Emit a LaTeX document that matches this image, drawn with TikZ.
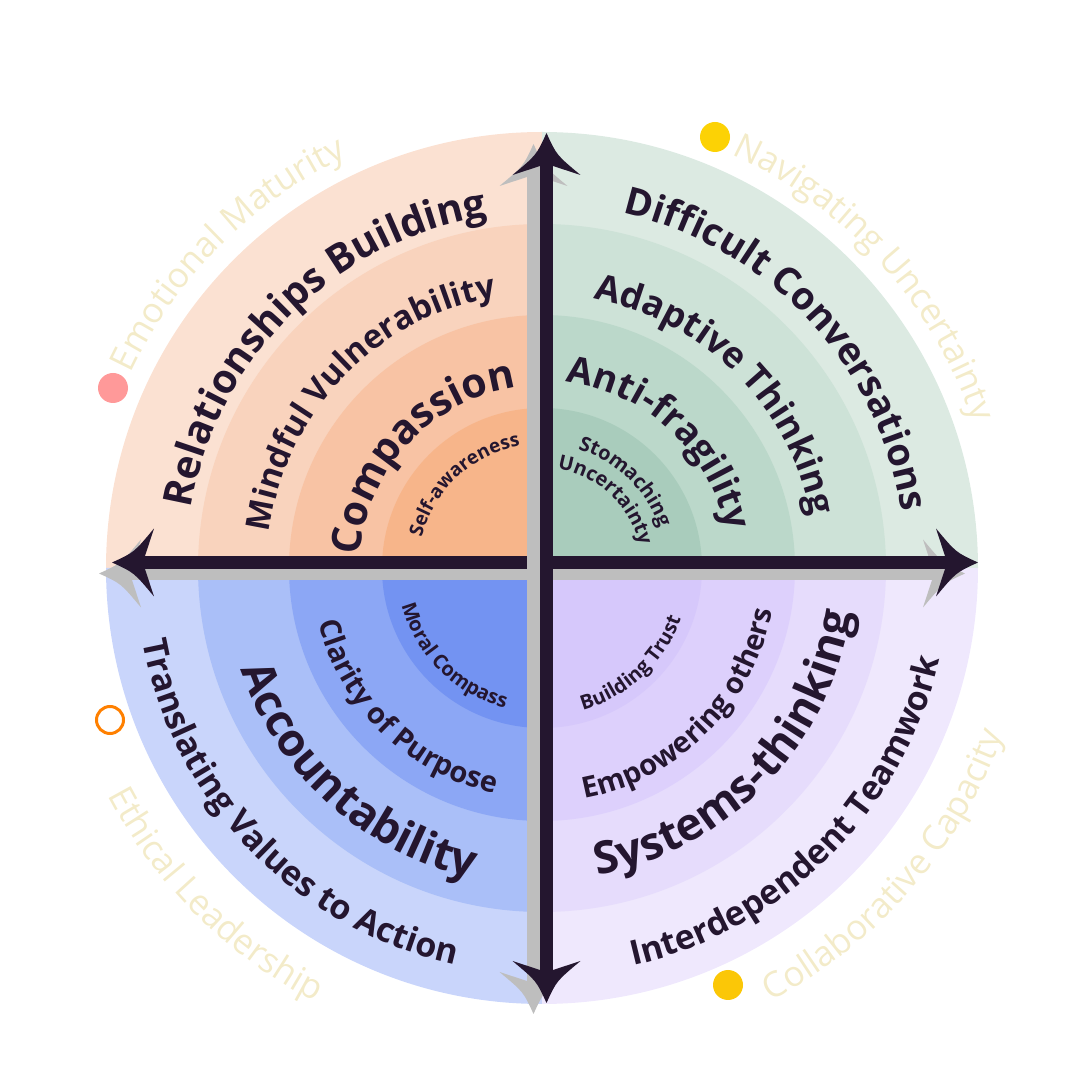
\documentclass[tikz,border=0pt]{standalone}
\usepackage{fontspec}
\setmainfont{Open Sans}
\usetikzlibrary{decorations.text}
\definecolor{dk}{HTML}{24162F}
\definecolor{sh}{HTML}{BEBEBE}
\definecolor{pale}{HTML}{F3EBC9}
\definecolor{o1}{HTML}{FBE1D2}\definecolor{o2}{HTML}{F9D3BD}\definecolor{o3}{HTML}{F8C3A4}\definecolor{o4}{HTML}{F7B58A}
\definecolor{g1}{HTML}{DCEAE2}\definecolor{g2}{HTML}{CDE2D7}\definecolor{g3}{HTML}{BBD8CA}\definecolor{g4}{HTML}{A9CCBC}
\definecolor{b1}{HTML}{C9D5FB}\definecolor{b2}{HTML}{AABFF8}\definecolor{b3}{HTML}{8CA7F5}\definecolor{b4}{HTML}{7393F2}
\definecolor{p1}{HTML}{EFE8FD}\definecolor{p2}{HTML}{E6DCFC}\definecolor{p3}{HTML}{DDD0FC}\definecolor{p4}{HTML}{D6C8FB}
\newcommand\cwtext[5]{\path[decorate,decoration={text along path,text align=center,text={|\color{#5}\fontsize{#3}{#3}\selectfont\bfseries|#4}}] (C) ++({#2+85}:#1pt) arc[start angle={#2+85},end angle={#2-85},radius=#1pt];}
\newcommand\ccwtext[5]{\path[decorate,decoration={text along path,text align=center,text={|\color{#5}\fontsize{#3}{#3}\selectfont\bfseries|#4}}] (C) ++({#2-85}:#1pt) arc[start angle={#2-85},end angle={#2+85},radius=#1pt];}
\newcommand\cwlight[4]{\path[decorate,decoration={text along path,text align=center,text={|\color{pale}\fontsize{#3}{#3}\selectfont|#4}}] (C) ++({#2+85}:#1pt) arc[start angle={#2+85},end angle={#2-85},radius=#1pt];}
\newcommand\ccwlight[4]{\path[decorate,decoration={text along path,text align=center,text={|\color{pale}\fontsize{#3}{#3}\selectfont|#4}}] (C) ++({#2-85}:#1pt) arc[start angle={#2-85},end angle={#2+85},radius=#1pt];}
\newcommand\quadrant[6]{%
 \fill[#3] (C) -- ++(#1:436pt) arc[start angle=#1,end angle=#2,radius=436pt] -- cycle;
 \fill[#4] (C) -- ++(#1:344pt) arc[start angle=#1,end angle=#2,radius=344pt] -- cycle;
 \fill[#5] (C) -- ++(#1:253pt) arc[start angle=#1,end angle=#2,radius=253pt] -- cycle;
 \fill[#6] (C) -- ++(#1:160pt) arc[start angle=#1,end angle=#2,radius=160pt] -- cycle;}
\newcommand\myhead{(0,0) .. controls (10,-22) .. (34,-42) -- (6.5,-33) -- (-6.5,-33) -- (-34,-42) .. controls (-10,-22) .. (0,0) -- cycle}
\tikzset{emo/.style={circle,minimum size=30pt,inner sep=0}}
\begin{document}
\begin{tikzpicture}[x=1pt,y=1pt]
\useasboundingbox (0,0) rectangle (1080,1080);
\coordinate (C) at (542,512);
\quadrant{90}{180}{o1}{o2}{o3}{o4}
\quadrant{0}{90}{g1}{g2}{g3}{g4}
\quadrant{180}{270}{b1}{b2}{b3}{b4}
\quadrant{270}{360}{p1}{p2}{p3}{p4}
% horizontal arrow
\begin{scope}[shift={(-13,-11)}]
 \fill[sh] (145,511) rectangle (945,524);
 \fill[sh] [shift={(112,517.5)},rotate=90] \myhead;
 \fill[sh] [shift={(978,517.5)},rotate=-90] \myhead;
\end{scope}
\fill[dk] (145,511) rectangle (945,524);
\fill[dk] [shift={(112,517.5)},rotate=90] \myhead;
\fill[dk] [shift={(978,517.5)},rotate=-90] \myhead;
% vertical arrow
\begin{scope}[shift={(-13,-11)}]
 \fill[sh] (540,110) rectangle (553,914);
 \fill[sh] [shift={(546.5,947)}] \myhead;
 \fill[sh] [shift={(546.5,77)},rotate=180] \myhead;
\end{scope}
\fill[dk] (540,110) rectangle (553,914);
\fill[dk] [shift={(546.5,947)}] \myhead;
\fill[dk] [shift={(546.5,77)},rotate=180] \myhead;
% texts TL
\cwtext{356}{134.5}{40}{Relationships Building}{dk}
\cwtext{275}{136}{33}{Mindful Vulnerability}{dk}
\cwtext{182}{137}{41}{Compassion}{dk}
\cwtext{124}{133}{19}{Self-awareness}{dk}
% TR
\cwtext{364}{43}{38}{Difficult Conversations}{dk}
\cwtext{274}{45}{36}{Adaptive Thinking}{dk}
\cwtext{188}{47}{37}{Anti-fragility}{dk}
\cwtext{124}{46}{20}{Stomaching}{dk}
\cwtext{100}{47}{20}{Uncertainty}{dk}
% BL
\ccwtext{406}{224}{34}{Translating Values to Action}{dk}
\ccwtext{318}{228}{45}{Accountability}{dk}
\ccwtext{230}{226}{29}{Clarity of Purpose}{dk}
\ccwtext{145}{225}{20}{Moral Compass}{dk}
% BR
\ccwtext{408}{315}{34}{Interdependent Teamwork}{dk}
\ccwtext{312}{316}{45}{Systems-thinking}{dk}
\ccwtext{234}{315}{29}{Empowering others}{dk}
\ccwtext{148}{313}{20}{Building Trust}{dk}
% outer
\cwlight{455}{135}{35}{Emotional Maturity}
\cwlight{455}{42}{35}{Navigating Uncertainty}
\ccwlight{490}{225}{35}{Ethical Leadership}
\ccwlight{490}{319}{35}{Collaborative Capacity}
% emoji stand-ins
\node[emo,fill=pink!80!red] (e1) at (113,692) {};
\node[emo,fill=yellow!70!orange] (e2) at (715,943) {};
\node[emo,draw=orange,line width=3pt,fill=white,minimum size=27pt] (e3) at (110,360) {};
\node[emo,fill=yellow!60!orange] (e4) at (728,95) {};
\end{tikzpicture}
\end{document}
